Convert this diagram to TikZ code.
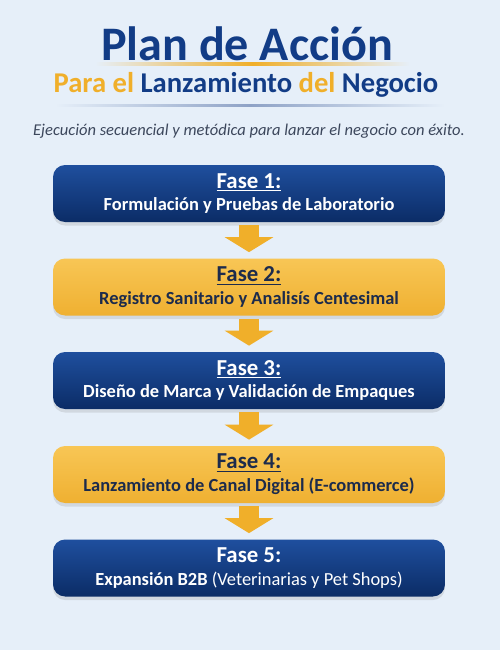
\documentclass[tikz,border=0pt]{standalone}
\usepackage{fontspec}
\setmainfont{Carlito}
\usetikzlibrary{arrows.meta,shadows}
\definecolor{fondo}{HTML}{E6EFF9}
\definecolor{azul}{HTML}{123C86}
\definecolor{azulclaro}{HTML}{1F4F9E}
\definecolor{azuloscuro}{HTML}{0B2C66}
\definecolor{oro}{HTML}{F0AF2A}
\definecolor{oroclaro}{HTML}{F8C655}
\definecolor{orooscuro}{HTML}{EFB031}
\definecolor{texto}{HTML}{3C475C}
\definecolor{tinta}{HTML}{1C2B4C}
\definecolor{raya}{HTML}{8EA2C6}
\tikzset{
  fase/.style={rounded corners=0.24cm,minimum width=7.84cm,minimum height=1.14cm,
    align=center,font=\bfseries,drop shadow={opacity=0.2,shadow xshift=0pt,shadow yshift=-2pt}},
  fasea/.style={fase,top color=azulclaro,bottom color=azuloscuro,text=white},
  faseb/.style={fase,top color=oroclaro,bottom color=orooscuro,text=tinta},
  flecha/.style={color=oro,line width=0.4cm,-{Triangle[width=0.96cm,length=0.3cm,fill=oro]},
    shorten <=0.06cm,shorten >=0.12cm}
}
\newcommand{\tfase}[1]{{\fontsize{13}{15}\selectfont #1}\\[1pt]}
\newcommand{\dfase}[1]{{\fontsize{10.5}{13}\selectfont #1}}
\begin{document}
\begin{tikzpicture}[x=0.02cm,y=-0.02cm]
	\useasboundingbox (0,0) rectangle (500,650);
	\fill[fondo] (0,0) rectangle (500,650);
	
	% encabezado
	\node[text=azul,font=\bfseries\fontsize{27.4}{30}\selectfont] (titulo)
	at (247,44) {Plan de Acción};
	\shade[left color=fondo,right color=fondo,middle color=oro] (95,62.5) rectangle (410,65);
	\node[text=azul,font=\bfseries\fontsize{16.3}{19}\selectfont] (lema)
	at (246,85) {\textcolor{oro}{Para el} Lanzamiento \textcolor{oro}{del} Negocio};
	\shade[left color=fondo,right color=fondo,middle color=raya] (55,104) rectangle (445,106);
	\node[text=texto,font=\itshape\fontsize{9.4}{12}\selectfont] (sub)
	at (249,131) {Ejecución secuencial y metódica para lanzar el negocio con éxito.};
	
	% fases
	\node[fasea] (f1) at (249,193.5)
	{\tfase{\underline{Fase 1:}}\dfase{Formulación y Pruebas de Laboratorio}};
	\node[faseb] (f2) at (249,287)
	{\tfase{\underline{Fase 2:}}\dfase{Registro Sanitario y Analisís Centesimal}};
	\node[fasea] (f3) at (249,380.5)
	{\tfase{\underline{Fase 3:}}\dfase{Diseño de Marca y Validación de Empaques}};
	\node[faseb] (f4) at (249,474.5)
	{\tfase{\underline{Fase 4:}}\dfase{Lanzamiento de Canal Digital (E-commerce)}};
	\node[fasea] (f5) at (249,568)
	{\tfase{Fase 5:}\dfase{Expansión B2B {\mdseries(Veterinarias y Pet Shops)}}};
	
	\path[flecha] (f1) edge (f2);
	\path[flecha] (f2) edge (f3);
	\path[flecha] (f3) edge (f4);
	\path[flecha] (f4) edge (f5);
\end{tikzpicture}
\end{document}
